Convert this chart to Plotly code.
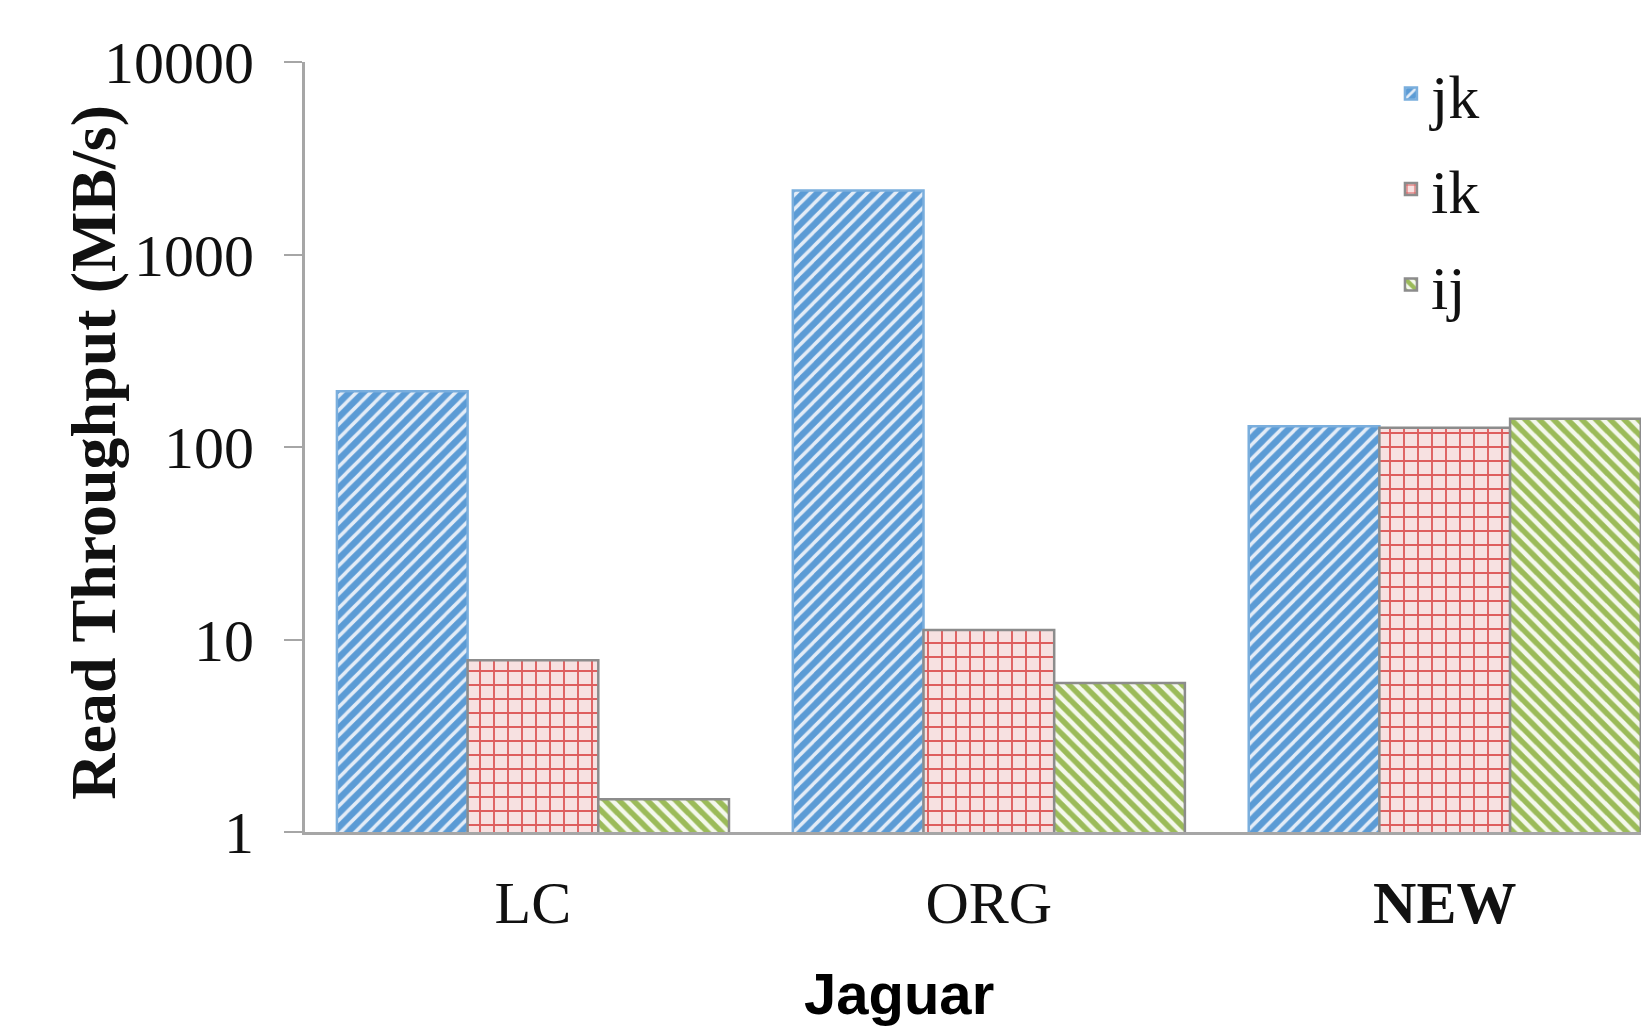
import plotly.graph_objects as go

categories = ["LC", "ORG", "NEW"]
tick_labels = ["LC", "ORG", "<b>NEW</b>"]
series_names = ["jk", "ik", "ij"]
jk_values = [195, 2150, 128]
ik_values = [7.8, 11.2, 126]
ij_values = [1.48, 5.95, 140]

y_tickvals = [1, 10, 100, 1000, 10000]
y_ticktext = ["1", "10", "100", "1000", "10000"]

SERIF = "Liberation Serif, Times New Roman, serif"
SANS = "Liberation Sans, Arial, sans-serif"

styles = {
    "jk": dict(bg="#5B9BD5", fg="#E3ECF7", shape="/", size=10, solidity=0.35, line="#7AAEDD"),
    "ik": dict(bg="#F7E1E1", fg="#DE5E5E", shape="+", size=14, solidity=0.25, line="#8C8C8C"),
    "ij": dict(bg="#F4F8EC", fg="#9BBB59", shape="\\", size=10, solidity=0.55, line="#8C8C8C"),
}

fig = go.Figure()
for name, vals in zip(series_names, [jk_values, ik_values, ij_values]):
    s = styles[name]
    fig.add_trace(go.Bar(
        x=categories, y=vals, name=name, legendgroup=name,
        marker=dict(
            color=s["bg"],
            line=dict(color=s["line"], width=2.5),
            pattern=dict(shape=s["shape"], bgcolor=s["bg"], fgcolor=s["fg"],
                         size=s["size"], solidity=s["solidity"], fillmode="replace"),
        ),
    ))

# page body has an 8px margin; the figure is sized and placed to compensate
fig.update_layout(
    width=1641, height=1018,
    barmode="group", bargap=0.14, bargroupgap=0,
    plot_bgcolor="white", paper_bgcolor="white",
    margin=dict(l=297, r=0, t=54, b=194),
    showlegend=True,
    legend=dict(x=0.808, y=1.02, xanchor="left", yanchor="top",
                font=dict(family=SERIF, size=62, color="#111111"),
                bgcolor="rgba(0,0,0,0)", tracegroupgap=12),
    font=dict(family=SERIF, color="#111111"),
)

fig.update_xaxes(
    type="category", range=[-0.5, 2.448],
    tickvals=categories, ticktext=tick_labels,
    tickfont=dict(family=SERIF, size=60, color="#111111"),
    showline=True, linecolor="#A6A6A6", linewidth=3,
    ticks="", ticklabelstandoff=16, showgrid=False, automargin=False,
)
fig.update_yaxes(
    type="log", range=[0, 4],
    tickvals=y_tickvals, ticktext=y_ticktext,
    tickfont=dict(family=SERIF, size=60, color="#111111"),
    showline=True, linecolor="#A6A6A6", linewidth=3,
    ticks="outside", ticklen=18, tickcolor="#A6A6A6", tickwidth=2,
    ticklabelstandoff=18, showgrid=False, zeroline=False, automargin=False,
)

fig.add_annotation(
    text="<b>Read Throughput (MB/s)</b>", textangle=-90,
    xref="paper", yref="paper", x=-0.158, y=0.4935,
    xanchor="center", yanchor="middle", showarrow=False,
    font=dict(family=SERIF, size=64, color="#111111"),
)
fig.add_annotation(
    text="<b>Jaguar</b>",
    xref="paper", yref="paper", x=0.442, y=-0.21,
    xanchor="center", yanchor="middle", showarrow=False,
    font=dict(family=SANS, size=58, color="#000000"),
)

fig.write_html("out.html")
